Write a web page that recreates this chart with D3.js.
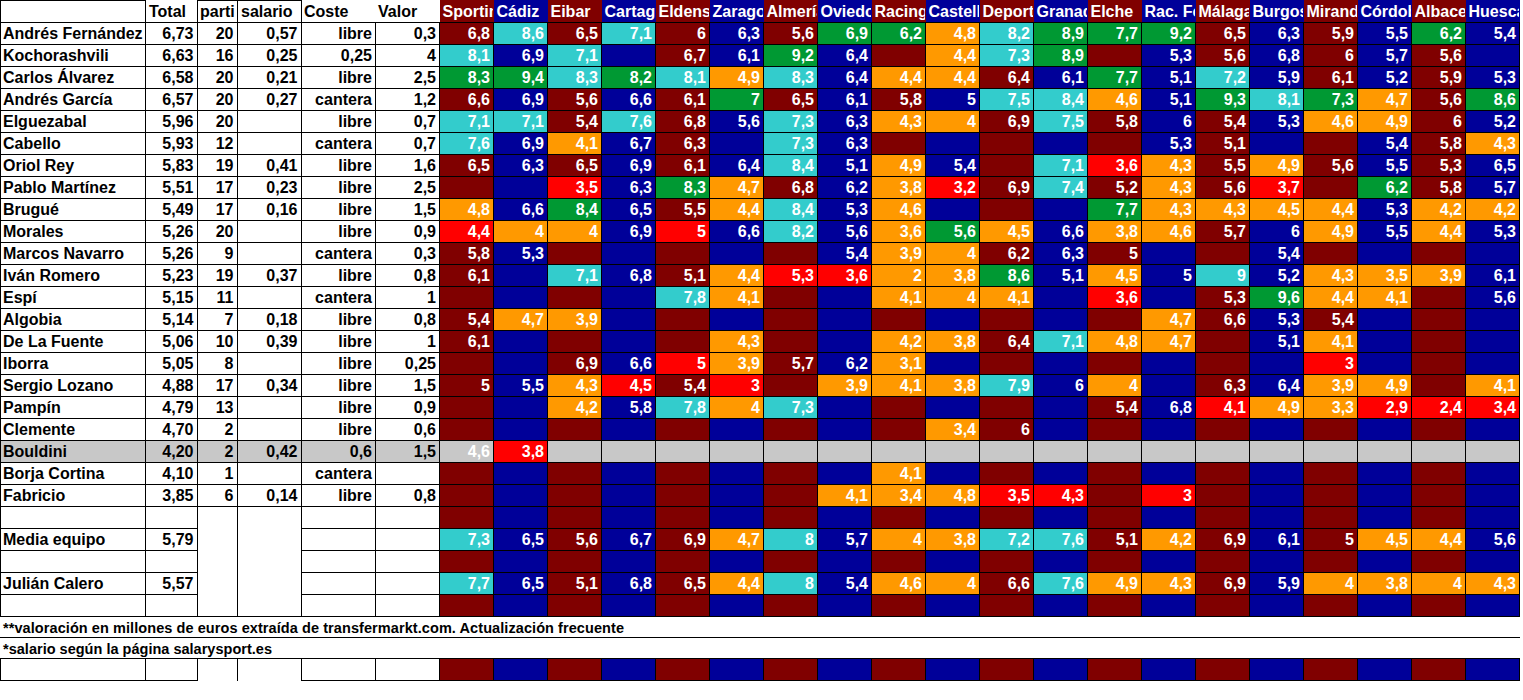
<!DOCTYPE html>
<html><head><meta charset="utf-8">
<script src="https://cdn.jsdelivr.net/npm/d3@7"></script>
<style>
body{margin:0;background:#fff}
svg text{font-family:"Liberation Sans",Arial,sans-serif;font-weight:bold;font-size:16px}
</style>
</head><body>
<svg id="c" width="1523" height="700"></svg>
<script>
const teams = ["Sporting","Cádiz","Eibar","Cartagena","Eldense","Zaragoza","Almería","Oviedo","Racing","Castellón","Deportivo","Granada","Elche","Rac. Ferrol","Málaga","Burgos","Mirandés","Córdoba","Albacete","Huesca"];
const headers = ["Total","parti","salario","Coste","Valor"];
const players = ["Andrés Fernández","Kochorashvili","Carlos Álvarez","Andrés García","Elguezabal","Cabello","Oriol Rey","Pablo Martínez","Brugué","Morales","Marcos Navarro","Iván Romero","Espí","Algobia","De La Fuente","Iborra","Sergio Lozano","Pampín","Clemente","Bouldini","Borja Cortina","Fabricio","","Media equipo","","Julián Calero",""];
const totals = [6.73,6.63,6.58,6.57,5.96,5.93,5.83,5.51,5.49,5.26,5.26,5.23,5.15,5.14,5.06,5.05,4.88,4.79,4.70,4.20,4.10,3.85,null,5.79,null,5.57,null];
const partidos = [20,16,20,20,20,12,19,17,17,20,9,19,11,7,10,8,17,13,2,2,1,6];
const salarios = [0.57,0.25,0.21,0.27,null,null,0.41,0.23,0.16,null,null,0.37,null,0.18,0.39,null,0.34,null,null,0.42,null,0.14];
const costes = ["libre","0,25","libre","cantera","libre","cantera","libre","libre","libre","libre","cantera","libre","cantera","libre","libre","libre","libre","libre","libre","0,6","cantera","libre"];
const valores = [0.3,4,2.5,1.2,0.7,0.7,1.6,2.5,1.5,0.9,0.3,0.8,1,0.8,1,0.25,1.5,0.9,0.6,1.5,null,0.8];
const N = null;
const ratings = [
 [6.8,8.6,6.5,7.1,6,6.3,5.6,6.9,6.2,4.8,8.2,8.9,7.7,9.2,6.5,6.3,5.9,5.5,6.2,5.4],
 [8.1,6.9,7.1,N,6.7,6.1,9.2,6.4,N,4.4,7.3,8.9,N,5.3,5.6,6.8,6,5.7,5.6,N],
 [8.3,9.4,8.3,8.2,8.1,4.9,8.3,6.4,4.4,4.4,6.4,6.1,7.7,5.1,7.2,5.9,6.1,5.2,5.9,5.3],
 [6.6,6.9,5.6,6.6,6.1,7,6.5,6.1,5.8,5,7.5,8.4,4.6,5.1,9.3,8.1,7.3,4.7,5.6,8.6],
 [7.1,7.1,5.4,7.6,6.8,5.6,7.3,6.3,4.3,4,6.9,7.5,5.8,6,5.4,5.3,4.6,4.9,6,5.2],
 [7.6,6.9,4.1,6.7,6.3,N,7.3,6.3,N,N,N,N,N,5.3,5.1,N,N,5.4,5.8,4.3],
 [6.5,6.3,6.5,6.9,6.1,6.4,8.4,5.1,4.9,5.4,N,7.1,3.6,4.3,5.5,4.9,5.6,5.5,5.3,6.5],
 [N,N,3.5,6.3,8.3,4.7,6.8,6.2,3.8,3.2,6.9,7.4,5.2,4.3,5.6,3.7,N,6.2,5.8,5.7],
 [4.8,6.6,8.4,6.5,5.5,4.4,8.4,5.3,4.6,N,N,N,7.7,4.3,4.3,4.5,4.4,5.3,4.2,4.2],
 [4.4,4,4,6.9,5,6.6,8.2,5.6,3.6,5.6,4.5,6.6,3.8,4.6,5.7,6,4.9,5.5,4.4,5.3],
 [5.8,5.3,N,N,N,N,N,5.4,3.9,4,6.2,6.3,5,N,N,5.4,N,N,N,N],
 [6.1,N,7.1,6.8,5.1,4.4,5.3,3.6,2,3.8,8.6,5.1,4.5,5,9,5.2,4.3,3.5,3.9,6.1],
 [N,N,N,N,7.8,4.1,N,N,4.1,4,4.1,N,3.6,N,5.3,9.6,4.4,4.1,N,5.6],
 [5.4,4.7,3.9,N,N,N,N,N,N,N,N,N,N,4.7,6.6,5.3,5.4,N,N,N],
 [6.1,N,N,N,N,4.3,N,N,4.2,3.8,6.4,7.1,4.8,4.7,N,5.1,4.1,N,N,N],
 [N,N,6.9,6.6,5,3.9,5.7,6.2,3.1,N,N,N,N,N,N,N,3,N,N,N],
 [5,5.5,4.3,4.5,5.4,3,N,3.9,4.1,3.8,7.9,6,4,N,6.3,6.4,3.9,4.9,N,4.1],
 [N,N,4.2,5.8,7.8,4,7.3,N,N,N,N,N,5.4,6.8,4.1,4.9,3.3,2.9,2.4,3.4],
 [N,N,N,N,N,N,N,N,N,3.4,6,N,N,N,N,N,N,N,N,N],
 [4.6,3.8,N,N,N,N,N,N,N,N,N,N,N,N,N,N,N,N,N,N],
 [N,N,N,N,N,N,N,N,4.1,N,N,N,N,N,N,N,N,N,N,N],
 [N,N,N,N,N,N,N,4.1,3.4,4.8,3.5,4.3,N,3,N,N,N,N,N,N],
 [N,N,N,N,N,N,N,N,N,N,N,N,N,N,N,N,N,N,N,N],
 [7.3,6.5,5.6,6.7,6.9,4.7,8,5.7,4,3.8,7.2,7.6,5.1,4.2,6.9,6.1,5,4.5,4.4,5.6],
 [N,N,N,N,N,N,N,N,N,N,N,N,N,N,N,N,N,N,N,N],
 [7.7,6.5,5.1,6.8,6.5,4.4,8,5.4,4.6,4,6.6,7.6,4.9,4.3,6.9,5.9,4,3.8,4,4.3],
 [N,N,N,N,N,N,N,N,N,N,N,N,N,N,N,N,N,N,N,N]
];
// b = column colour, t = turquoise, g = green, o = orange, r = red, x = grey
const tiers = [
 "btbtbbbggotgggbbbbgb",
 "tbtbbbgbbotgbbbbbbbb",
 "ggtgtotboobbgbtbbbbb",
 "bbbbbgbbbbttobgtgobg",
 "ttbtbbtboobtbbbboobb",
 "tbobbbtbbbbbbbbbbbbo",
 "bbbbbbtbobbtrobobbbb",
 "bbrbgobborbtbobrbgbb",
 "obgbbotbobbbgooooboo",
 "roobrbtbogoboobbobob",
 "bbbbbbbboobbbbbbbbbb",
 "bbtbborroogbobtbooob",
 "bbbbtobbooobrbbgoobb",
 "boobbbbbbbbbbobbbbbb",
 "bbbbbobboobtoobbobbb",
 "bbbbrobbobbbbbbbrbbb",
 "bborbrboootbobbboobo",
 "bbobtotbbbbbbbroorrr",
 "bbbbbbbbbobbbbbbbbbb",
 "xrxxxxxxxxxxxxxxxxxx",
 "bbbbbbbbobbbbbbbbbbb",
 "bbbbbbbooorrbrbbbbbb",
 "bbbbbbbbbbbbbbbbbbbb",
 "tbbbbotboottbobbboob",
 "bbbbbbbbbbbbbbbbbbbb",
 "tbbbbotboobtoobboooo",
 "bbbbbbbbbbbbbbbbbbbb"
];
const notes = ["**valoración en millones de euros extraída de transfermarkt.com. Actualización frecuente","*salario según la página salarysport.es"];

const svg = d3.select("#c");
const baseColors = ["#800000","#000099"];
const tierColors = {g:"#009933", t:"#33CCCC", o:"#FF9900", r:"#FF0000", x:"#C8C8C8"};
const fmt = v => v == null ? "" : String(v).replace(".", ",");
const x = d3.scaleBand().domain(teams).range([439.5, 1519.5]);
const y = d3.scaleBand().domain(d3.range(players.length)).range([22.5, 616.5]);
const colEdges = [0.5, 145.5, 197.5, 237.5, 301.5, 375.5, 439.5];
const noteY = [616.5, 637.5, 658.5, 680.5];
const grey = "#C8C8C8";
const teamColor = i => baseColors[i % 2];

const bg = svg.append("g").attr("shape-rendering","crispEdges");
// header team cells
bg.selectAll("rect.h").data(teams).join("rect")
  .attr("x", d => x(d)).attr("y", 0).attr("width", x.bandwidth()).attr("height", 22.5)
  .attr("fill", (d,i) => teamColor(i));
// data cells
const cells = [];
ratings.forEach((row, r) => row.forEach((v, t) => cells.push({r, t, v, c: tiers[r][t]})));
bg.selectAll("rect.c").data(cells).join("rect")
  .attr("x", d => x(teams[d.t])).attr("y", d => y(d.r))
  .attr("width", x.bandwidth()).attr("height", y.bandwidth())
  .attr("fill", d => d.c === "b" ? teamColor(d.t) : tierColors[d.c]);
// last coloured row
bg.selectAll("rect.l").data(teams).join("rect")
  .attr("x", d => x(d)).attr("y", noteY[2]).attr("width", x.bandwidth()).attr("height", noteY[3]-noteY[2])
  .attr("fill", (d,i) => teamColor(i));
// Bouldini grey row on left
const bi = players.indexOf("Bouldini");
bg.append("rect").attr("x", 0.5).attr("y", y(bi)).attr("width", 439).attr("height", y.bandwidth()).attr("fill", grey);

// grid lines
const lines = svg.append("g").attr("stroke","#000").attr("stroke-width",1).attr("shape-rendering","crispEdges");
const hl = (x1,x2,yy) => lines.append("line").attr("x1",x1).attr("x2",x2).attr("y1",yy).attr("y2",yy);
const vl = (xx,y1,y2) => lines.append("line").attr("x1",xx).attr("x2",xx).attr("y1",y1).attr("y2",y2);
for (let k = 0; k <= players.length; k++) {
  const yy = k < players.length ? y(k) : noteY[0];
  if (k <= 22 || k === players.length) hl(0, 1519.5, yy);
  else { hl(0, 197.5, yy); hl(301.5, 1519.5, yy); }
}
hl(0, 1519.5, noteY[1]); hl(0, 1519.5, noteY[2]);
hl(0, 197.5, noteY[3]); hl(301.5, 1519.5, noteY[3]);
hl(0, 145.5, 0.5); hl(197.5, 301.5, 0.5);
colEdges.forEach(e => vl(e, 22.5, noteY[0]));
[0.5,145.5,197.5,237.5,301.5].forEach(e => vl(e, 0, 22.5));
colEdges.forEach(e => vl(e, noteY[2], noteY[3]));
teams.forEach(t => { vl(x(t)+x.bandwidth(), 22.5, noteY[0]); vl(x(t)+x.bandwidth(), noteY[2], noteY[3]); });

// text
const tx = svg.append("g");
const hx = [149, 200, 241, 304, 378];
headers.forEach((h,i) => tx.append("text").attr("x", hx[i]).attr("y", 17).attr("fill","#000").text(h));
const defs = svg.append("defs");
teams.forEach((t,i) => {
  defs.append("clipPath").attr("id","hc"+i).append("rect")
    .attr("x", x(t)).attr("y", 0).attr("width", x.bandwidth()-0.5).attr("height", 22);
  tx.append("text").attr("x", x(t)+3).attr("y", 17).attr("fill","#fff")
    .attr("clip-path","url(#hc"+i+")").text(t);
});
const ty = r => y(r) + 16.5;
players.forEach((p,r) => {
  tx.append("text").attr("x", 3).attr("y", ty(r)).text(p);
  if (totals[r] != null) tx.append("text").attr("x", colEdges[2]-4).attr("y", ty(r)).attr("text-anchor","end").text(totals[r].toFixed(2).replace(".", ","));
  if (partidos[r] != null) tx.append("text").attr("x", colEdges[3]-4).attr("y", ty(r)).attr("text-anchor","end").text(partidos[r]);
  if (salarios[r] != null) tx.append("text").attr("x", colEdges[4]-4).attr("y", ty(r)).attr("text-anchor","end").text(salarios[r].toFixed(2).replace(".", ","));
  if (costes[r] != null) tx.append("text").attr("x", colEdges[5]-3.5).attr("y", ty(r)).attr("text-anchor","end").text(costes[r]);
  if (valores[r] != null) tx.append("text").attr("x", colEdges[6]-3.5).attr("y", ty(r)).attr("text-anchor","end").text(fmt(valores[r]));
});
tx.selectAll("text.v").data(cells.filter(d => d.v != null)).join("text")
  .attr("x", d => x(teams[d.t]) + x.bandwidth() - 3.5).attr("y", d => ty(d.r))
  .attr("text-anchor","end").attr("fill","#fff").text(d => fmt(d.v));
const noteW = [621, 269];
notes.forEach((n,i) => tx.append("text").attr("x", 3).attr("y", noteY[i] + 16)
  .style("font-size","14.5px").attr("textLength", noteW[i]).attr("lengthAdjust","spacing").text(n));
</script>
</body></html>
